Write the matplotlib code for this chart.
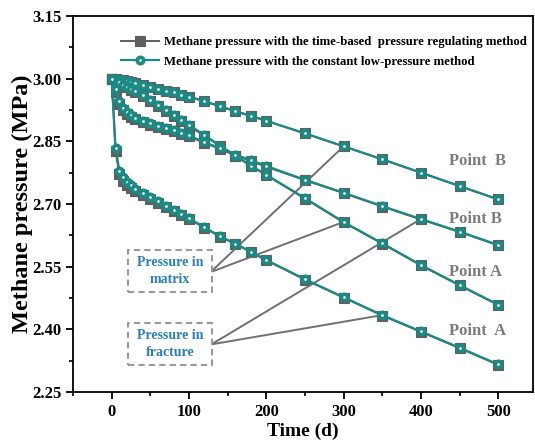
import matplotlib
matplotlib.use("Agg")
import matplotlib.pyplot as plt
from matplotlib.lines import Line2D
from matplotlib.patches import Rectangle
from matplotlib.ticker import MultipleLocator, FormatStrFormatter

plt.rcParams['font.family'] = ['Liberation Serif', 'DejaVu Serif']
plt.rcParams['font.weight'] = 'bold'

# ---- data ----
time_d = [0, 5, 10, 15, 20, 25, 30, 40, 50, 60, 70, 80, 90, 100,
          120, 140, 160, 180, 200, 250, 300, 350, 400, 450, 500]

# constant low-pressure method (teal)
matrix_B_const = [3.000, 2.999, 2.998, 2.996, 2.994, 2.992, 2.989, 2.985, 2.981, 2.976, 2.971, 2.967, 2.962, 2.957,
                  2.946, 2.934, 2.922, 2.911, 2.899, 2.869, 2.838, 2.807, 2.775, 2.743, 2.711]
matrix_A_const = [3.000, 2.997, 2.991, 2.985, 2.980, 2.976, 2.971, 2.960, 2.948, 2.936, 2.925, 2.913, 2.901, 2.889,
                  2.865, 2.840, 2.816, 2.792, 2.770, 2.714, 2.657, 2.606, 2.554, 2.506, 2.459]
fracture_B_const = [3.000, 2.975, 2.946, 2.930, 2.921, 2.913, 2.906, 2.899, 2.893, 2.887, 2.882, 2.876, 2.870, 2.864,
                    2.848, 2.834, 2.818, 2.805, 2.791, 2.758, 2.727, 2.695, 2.664, 2.634, 2.602]
fracture_A_const = [3.000, 2.835, 2.780, 2.764, 2.753, 2.745, 2.737, 2.726, 2.716, 2.706, 2.695, 2.686, 2.676, 2.666,
                    2.644, 2.623, 2.605, 2.586, 2.566, 2.520, 2.477, 2.434, 2.395, 2.356, 2.316]

# time-based pressure regulating method (gray)
matrix_B_time = [3.000, 2.999, 2.998, 2.996, 2.994, 2.992, 2.989, 2.985, 2.981, 2.976, 2.971, 2.967, 2.962, 2.957,
                 2.946, 2.934, 2.922, 2.911, 2.899, 2.869, 2.838, 2.807, 2.775, 2.743, 2.711]
matrix_A_time = [3.000, 2.996, 2.990, 2.984, 2.979, 2.974, 2.969, 2.958, 2.946, 2.934, 2.923, 2.911, 2.899, 2.887,
                 2.863, 2.839, 2.815, 2.791, 2.769, 2.713, 2.656, 2.605, 2.553, 2.505, 2.458]
fracture_B_time = [3.000, 2.968, 2.940, 2.925, 2.916, 2.909, 2.903, 2.896, 2.890, 2.885, 2.880, 2.874, 2.868, 2.862,
                   2.846, 2.832, 2.816, 2.803, 2.789, 2.757, 2.726, 2.694, 2.663, 2.633, 2.601]
fracture_A_time = [3.000, 2.826, 2.771, 2.756, 2.746, 2.739, 2.732, 2.722, 2.713, 2.703, 2.693, 2.684, 2.674, 2.664,
                   2.643, 2.622, 2.604, 2.585, 2.565, 2.519, 2.476, 2.433, 2.394, 2.355, 2.315]

point_labels = ["Point  B", "Point B", "Point A", "Point  A"]
point_label_y = [2.803, 2.664, 2.537, 2.395]
label_x = 436

legend_labels = ["Methane pressure with the time-based  pressure regulating method",
                 "Methane pressure with the constant low-pressure method"]

TEAL = "#1b8a85"
GRAY = "#5f5f5f"
BLUE = "#2a7ec4"
LGRAY = "#7d7d7d"

fig = plt.figure(figsize=(5.35, 4.46), dpi=100)
ax = fig.add_axes([73/535, 1-392/446, (533-73)/535, (392-16)/446])

time_series = [matrix_B_time, matrix_A_time, fracture_B_time, fracture_A_time]
const_series = [matrix_B_const, matrix_A_const, fracture_B_const, fracture_A_const]

SQ = dict(marker='s', ms=7.2, mfc=GRAY, mec=GRAY, mew=0.8)
CI = dict(marker='o', ms=4.6, mfc='white', mec=TEAL, mew=2.6)

for ys in time_series:
    ax.plot(time_d, ys, color=GRAY, lw=1.4, zorder=3, **SQ)
for ys in const_series:
    ax.plot(time_d, ys, color=TEAL, lw=1.6, zorder=4, **CI)

# callout boxes
def px_to_axes(x, y):
    return ((x - 73) / (533 - 73), (392 - y) / (392 - 16))

for (x0, y0, x1, y1, txt) in [(128, 250, 212, 292, "Pressure in\nmatrix"),
                              (128, 323, 212, 365, "Pressure in\nfracture")]:
    ax0, ay0 = px_to_axes(x0, y1)
    ax1, ay1 = px_to_axes(x1, y0)
    ax.add_patch(Rectangle((ax0, ay0), ax1 - ax0, ay1 - ay0, transform=ax.transAxes,
                           fc='white', ec='#9a9a9a', ls=(0, (3, 2)), lw=1.5, zorder=5))
    cx, cy = px_to_axes((x0 + x1) / 2, (y0 + y1) / 2)
    ax.text(cx, cy, txt, transform=ax.transAxes, ha='center', va='center',
            color=BLUE, fontsize=10, fontweight='bold', linespacing=1.35, zorder=6)

# connector lines
matrix_src = (128, 2.537)
fracture_src = (129, 2.364)
i300 = time_d.index(300)
i350 = time_d.index(350)
i400 = time_d.index(400)
for (src, tx, ty) in [(matrix_src, time_d[i300], matrix_B_const[i300]),
                      (matrix_src, time_d[i300], matrix_A_const[i300]),
                      (fracture_src, time_d[i400], fracture_B_const[i400]),
                      (fracture_src, time_d[i350], fracture_A_const[i350])]:
    ax.plot([src[0], tx], [src[1], ty], color='#707070', lw=1.4, zorder=3.5)

for lab, ly in zip(point_labels, point_label_y):
    ax.text(label_x, ly, lab, color=LGRAY, fontsize=12, fontweight='bold',
            ha='left', va='center', zorder=6)

ax.set_xlim(-50, 545)
ax.set_ylim(2.25, 3.15)
ax.xaxis.set_major_locator(MultipleLocator(100))
ax.xaxis.set_minor_locator(MultipleLocator(50))
ax.yaxis.set_major_locator(MultipleLocator(0.15))
ax.yaxis.set_minor_locator(MultipleLocator(0.075))
ax.yaxis.set_major_formatter(FormatStrFormatter('%.2f'))
ax.tick_params(axis='both', which='major', direction='out', length=5, width=1.3,
               labelsize=12, top=False, right=False)
ax.tick_params(axis='both', which='minor', direction='out', length=3, width=1.2,
               top=False, right=False)
for lab in ax.get_xticklabels() + ax.get_yticklabels():
    lab.set_fontweight('bold')
for sp in ax.spines.values():
    sp.set_linewidth(1.3)

ax.set_xlabel("Time (d)", fontsize=14, fontweight='bold', labelpad=2)
ax.set_ylabel("Methane pressure (MPa)", fontsize=17.5, fontweight='bold')
ax.yaxis.set_label_coords(-0.087, 0.5)

handles = [Line2D([], [], color=GRAY, lw=1.4, **SQ),
           Line2D([], [], color=TEAL, lw=1.6, **CI)]
ax.legend(handles, legend_labels, loc='upper left', bbox_to_anchor=(0.093, 0.96),
          frameon=False, prop={'family': 'Liberation Serif', 'weight': 'bold', 'size': 9.2},
          handlelength=3.0, handletextpad=0.4, labelspacing=0.6, borderaxespad=0)

fig.savefig("out.png", dpi=100)
